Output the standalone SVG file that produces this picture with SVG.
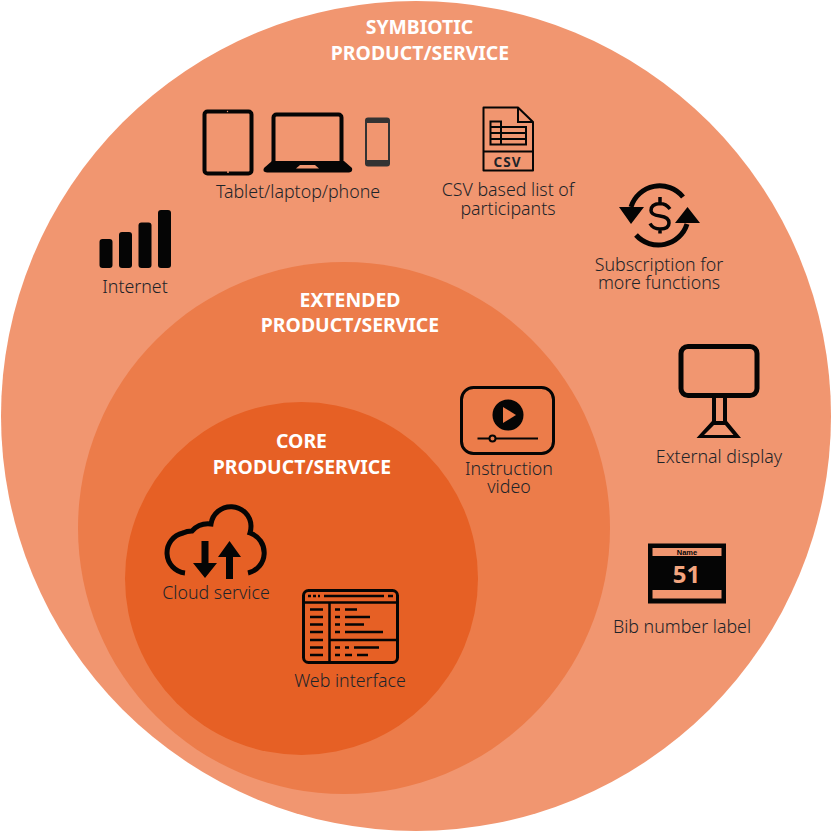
<svg xmlns="http://www.w3.org/2000/svg" width="839" height="831" viewBox="0 0 839 831">
<style>
.l{font-family:"Noto Sans","Open Sans",sans-serif;font-size:17.8px;fill:#1d2429;text-anchor:middle;font-weight:300}
.h{font-family:"Noto Sans","Open Sans",sans-serif;font-size:19.400px;fill:#fff;text-anchor:middle;font-weight:700}
.k{fill:#050505}
.s{fill:none;stroke:#050505}
</style>
<rect width="839" height="831" fill="#fff"/>
<g id="symbiotic"><circle cx="416" cy="416" r="415" fill="#F19670"/>
<text class="h" x="419.500" y="34">SYMBIOTIC</text><text class="h" x="420" y="60">PRODUCT/SERVICE</text></g>
<g id="extended"><circle cx="344" cy="528" r="266" fill="#EC7C4A"/>
<text class="h" x="350" y="307">EXTENDED</text><text class="h" x="350" y="332">PRODUCT/SERVICE</text></g>
<g id="core"><circle cx="301.500" cy="578.500" r="176.500" fill="#E66025"/>
<text class="h" x="301.500" y="448">CORE</text><text class="h" x="302" y="474">PRODUCT/SERVICE</text></g>
<g id="devices">
<rect x="204.500" y="111.500" width="47" height="62" rx="3" fill="none" stroke="#050505" stroke-width="4"/>
<circle cx="228" cy="172" r="1" fill="#F19670"/><circle cx="227.500" cy="111.500" r="0.700" fill="#F19670"/>
<rect x="273.500" y="114.500" width="68" height="51" rx="3" fill="none" stroke="#050505" stroke-width="4"/>
<path class="k" d="M272 161H344L352 168Q353 172 349 172.500H267Q262 172 264 168Z"/>
<path d="M296 168.500L300 165H315L319 168.500Z" fill="#F19670"/>
<rect x="365" y="117.500" width="25" height="49" rx="3" fill="#333"/>
<rect x="367" y="123" width="21" height="37" fill="#F19670"/>
<text class="l" x="298" y="197.500">Tablet/laptop/phone</text></g>
<g id="csv">
<path class="s" stroke-width="2" stroke-linejoin="round" d="M483.500 107.500H518L533 122V170.500H483.500Z"/>
<path class="s" stroke-width="2" d="M518 107.500V122H533M483.500 151.500H533"/>
<path class="s" stroke-width="2" d="M490.500 121.500H501V144.500H490.500ZM501 127H526V144.500H501ZM490.500 127H501M490.500 133H526M490.500 139H526"/>
<text x="507.500" y="167" font-family="'Noto Sans',sans-serif" font-size="13.500" font-weight="700" text-anchor="middle" fill="#1d2429" letter-spacing="1">CSV</text>
<text class="l" x="508" y="195.500">CSV based list of</text><text class="l" x="508" y="214.500">participants</text></g>
<g id="subscription">
<path class="s" stroke-width="5" d="M631 207A30 30 0 0 1 683 197M687 224A30 30 0 0 1 636 235"/>
<path class="k" d="M619 207H644L631 224ZM675 223L687.500 207L700 223Z"/>
<path class="s" stroke-width="3.500" d="M670 209Q666 203.500 660 203.500Q651 204 651 210.500Q651 215 660 216Q669 217 669 223Q669 229 660 229Q653 229 650 223.500M660 197V203.500M660 229V233.500"/>
<text class="l" x="659" y="270.500">Subscription for</text><text class="l" x="659" y="288.500">more functions</text></g>
<g id="internet">
<rect x="99.500" y="239" width="13" height="29" rx="3" class="k"/>
<rect x="119" y="232" width="13" height="36" rx="3" class="k"/>
<rect x="138.500" y="222.500" width="13" height="45.500" rx="3" class="k"/>
<rect x="158" y="210" width="13" height="58" rx="3" class="k"/>
<text class="l" x="135" y="292.500">Internet</text></g>
<g id="display">
<rect x="681" y="346.500" width="76" height="49" rx="7" fill="none" stroke="#050505" stroke-width="5"/>
<path class="s" stroke-width="4" d="M714 398V422M725 398V422"/>
<path class="k" fill-rule="evenodd" d="M712 421H727L741 438H696.500ZM714 425L704 435H733.500L725 425Z"/>
<text class="l" x="719" y="462.500">External display</text></g>
<g id="bib">
<rect x="648" y="543.500" width="78" height="60" class="k"/>
<rect x="652.500" y="548" width="69" height="8" fill="#F19670"/>
<rect x="652.500" y="590" width="69" height="8.500" fill="#F19670"/>
<text x="687" y="555" font-family="'Liberation Sans',sans-serif" font-size="7.500" font-weight="700" text-anchor="middle" fill="#050505">Name</text>
<text x="686.500" y="583" font-family="'Noto Sans',sans-serif" font-size="24" font-weight="700" text-anchor="middle" fill="#F3A57F">51</text>
<text class="l" x="682" y="632.500">Bib number label</text></g>
<g id="video">
<rect x="461.500" y="387.500" width="92" height="66" rx="12" fill="none" stroke="#050505" stroke-width="3"/>
<circle cx="508" cy="415" r="15.500" class="k"/>
<path d="M503 407L516 415L503 423Z" fill="#EC7C4A"/>
<path class="s" stroke-width="2" d="M477.500 438.500H538"/>
<circle cx="492.500" cy="438.500" r="3" fill="#EC7C4A" stroke="#050505" stroke-width="2"/>
<text class="l" x="509" y="475">Instruction</text><text class="l" x="509" y="493">video</text></g>
<g id="cloud">
<path class="s" stroke-width="5" d="M185 573A20.300 20.300 0 0 1 183 533Q187 531 192 531A22 22 0 0 1 211 524A20.100 20.100 0 0 1 251 526Q251 530 250 533A20.800 20.800 0 0 1 248 573"/>
<path class="k" d="M201.500 541H208.500V563H217L205 578L193 563H201.500ZM226 579V557H218L229.500 541L241 557H233V579Z"/>
<text class="l" x="216" y="598.500">Cloud service</text></g>
<g id="web">
<rect x="303.500" y="590.500" width="94" height="72" rx="5" fill="none" stroke="#050505" stroke-width="3"/>
<path class="s" stroke-width="2.500" d="M303.500 602.500H397.500M329.500 602.500V662.500M329.500 640H397.500M324 596H384M388 596H393M308 596H311M313 596H316M318 596H320"/>
<path class="s" stroke-width="2.500" d="M310 609.500H323M310 617H323M310 624.500H323M310 632H323M310 640H323M310 647.500H323M310 655H323M335 609.500H340M345 609.500H357M335 617H340M345 617H370M335 624.500H340M345 624.500H364M335 632H340M345 632H383M335 647.500H340M345 647.500H349M354 647.500H379M335 655H340M345 655H352M357 655H368"/>
<text class="l" x="350" y="686.500">Web interface</text></g>
</svg>
